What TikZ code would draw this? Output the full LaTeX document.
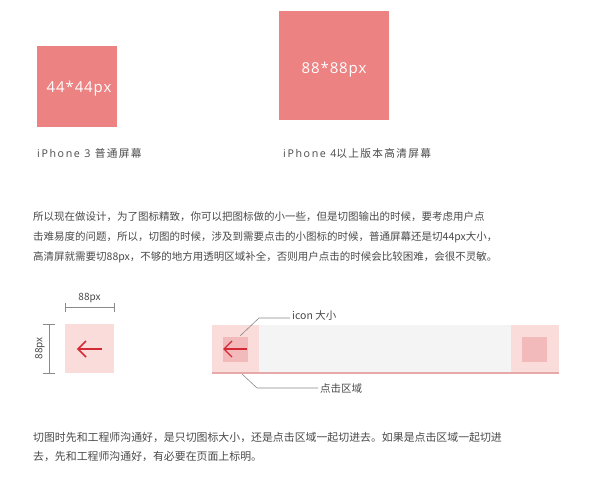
\documentclass[tikz,border=0pt]{standalone}
\usepackage{fontspec}
\setmainfont{Noto Sans CJK SC}
\newfontfamily\labfont[LetterSpace=12]{Noto Sans CJK SC}
\newfontfamily\latcap[LetterSpace=15]{Open Sans}
\newfontfamily\boxfont[LetterSpace=6]{Open Sans}
\definecolor{salmon}{HTML}{EC8282}
\definecolor{lightpink}{HTML}{FADCDB}
\definecolor{midpink}{HTML}{F2BABA}
\definecolor{barfill}{HTML}{F4F4F4}
\definecolor{baselncol}{HTML}{E6A8A8}
\definecolor{arrowred}{HTML}{D42A35}
\definecolor{txt}{HTML}{4A4A4A}
\definecolor{dimgray}{HTML}{8A8A8A}
\tikzset{
  bigbox/.style={fill=salmon, draw=none},
  boxtext/.style={text=white, font=\boxfont\fontsize{15}{18}\selectfont, inner sep=0},
  caption/.style={text=txt, anchor=west, inner sep=0, font=\labfont\fontsize{10.7}{12}\selectfont},
  para/.style={text=txt, anchor=west, inner sep=0, font=\fontsize{10.5}{12}\selectfont},
  parb/.style={text=txt, anchor=west, inner sep=0, font=\fontsize{10.9}{13}\selectfont},
  small/.style={text=txt, inner sep=0, font=\fontsize{10}{12}\selectfont},
  dimline/.style={draw=dimgray, line width=0.8pt},
  leader/.style={draw=dimgray, line width=0.6pt},
  iconarrow/.style={draw=arrowred, line width=1.5pt},
}
\begin{document}
\begin{tikzpicture}[x=1pt,y=-1pt]
\useasboundingbox[fill=white] (0,0) rectangle (595,500);

% top squares
\fill[bigbox] (37,46) rectangle (117,127);
\node[boxtext] (t44) at (79,89) {44*44px};
\node[caption] (cap3) at (37,153) {{\latcap iPhone 3 }普通屏幕};
\fill[bigbox] (279,11) rectangle (389,120);
\node[boxtext] (t88) at (334,70) {88*88px};
\node[caption] (cap4) at (283,153) {{\latcap iPhone 4}以上版本高清屏幕};

% paragraph
\node[para] (p1) at (33,217) {所以现在做设计，为了图标精致，你可以把图标做的小一些，但是切图输出的时候，要考虑用户点};
\node[para] (p2) at (33,237) {击难易度的问题，所以，切图的时候，涉及到需要点击的小图标的时候，普通屏幕还是切44px大小，};
\node[para] (p3) at (33,257) {高清屏就需要切88px，不够的地方用透明区域补全，否则用户点击的时候会比较困难，会很不灵敏。};

% left icon with dimensions
\fill[lightpink] (65,324) rectangle (114,373);
\coordinate (hL) at (65,307);
\coordinate (hR) at (114,307);
\draw[dimline] (hL) -- (hR);
\draw[dimline] (65,303) -- (65,312);
\draw[dimline] (114,303) -- (114,312);
\node[small] (w88) at (89.5,298) {88px};
\coordinate (vT) at (49,324);
\coordinate (vB) at (49,373);
\draw[dimline] (vT) -- (vB);
\draw[dimline] (43,324) -- (55,324);
\draw[dimline] (43,373) -- (55,373);
\node[small, rotate=90] (h88) at (40,348.5) {88px};
\coordinate (a1tail) at (102,349);
\coordinate (a1tip) at (78,349);
\draw[iconarrow] (a1tail) -- (a1tip);
\draw[iconarrow, line join=miter] (86,341) -- (a1tip) -- (86,357);

% bar
\fill[barfill] (212,325) rectangle (559,373);
\fill[lightpink] (212,325) rectangle (259,373);
\fill[lightpink] (511,325) rectangle (559,373);
\fill[midpink] (223,337) rectangle (248,362);
\fill[midpink] (522,337) rectangle (547,362);
\draw[draw=baselncol, line width=1.5pt] (212,373) -- (559,373);
\coordinate (a2tail) at (247,349);
\coordinate (a2tip) at (224,349);
\draw[iconarrow, line width=1.2pt] (a2tail) -- (a2tip);
\draw[iconarrow, line width=1.2pt, line join=miter] (232,341) -- (a2tip) -- (232,357);

% leaders
\node[small, anchor=west, font=\fontsize{10.5}{12}\selectfont] (iconlab) at (292,315.5) {icon 大小};
\coordinate (l1a) at (240,336);
\coordinate (l1b) at (259,318);
\draw[leader] (l1a) -- (l1b) -- ([xshift=-2pt]iconlab.west |- l1b);
\node[small, anchor=west, font=\fontsize{10.5}{12}\selectfont] (clicklab) at (320,389) {点击区域};
\coordinate (l2a) at (242,374);
\coordinate (l2b) at (257,388);
\draw[leader] (l2a) -- (l2b) -- ([xshift=-2pt]clicklab.west |- l2b);

% bottom paragraph
\node[parb] (b1) at (33,437) {切图时先和工程师沟通好，是只切图标大小，还是点击区域一起切进去。如果是点击区域一起切进};
\node[parb] (b2) at (33,456) {去，先和工程师沟通好，有必要在页面上标明。};
\end{tikzpicture}
\end{document}
